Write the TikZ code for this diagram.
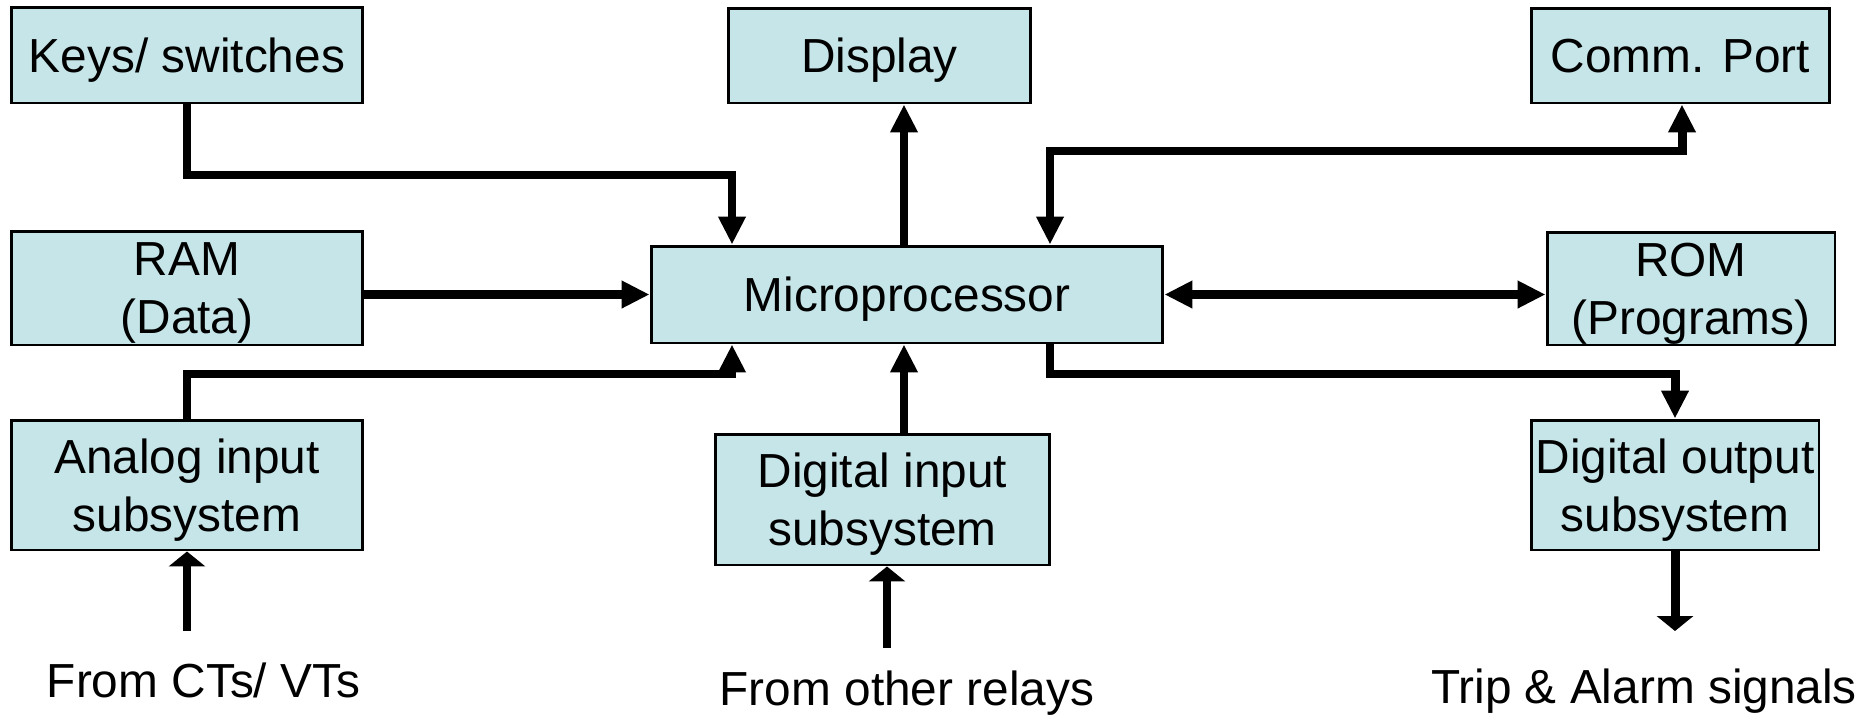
\documentclass[tikz,border=0pt]{standalone}
\usepackage{fontspec}
\setmainfont{Liberation Sans}
\usetikzlibrary{arrows.meta}
\definecolor{boxfill}{RGB}{197,229,232}
\tikzset{
  blk/.style={draw=black, fill=boxfill, line width=1.7pt, inner sep=0pt,
    align=center, text depth=0pt, font=\fontsize{27.2}{33}\selectfont},
  lbl/.style={inner sep=0pt, anchor=base, font=\fontsize{27.2}{33}\selectfont},
  conn/.style={line width=5.1pt, line join=miter,
    -{Triangle[length=0.56cm, width=0.52cm]}},
  bidir/.style={line width=5.1pt, line join=miter,
    {Triangle[length=0.56cm, width=0.52cm]}-{Triangle[length=0.56cm, width=0.52cm]}},
  ext/.style={line width=5.1pt, -{Triangle[length=0.3cm, width=0.72cm]}}
}
\begin{document}
\begin{tikzpicture}[x=0.02cm, y=-0.02cm]
\useasboundingbox (0,0) rectangle (1866,714);

% blocks
\node[blk, minimum width=7.04cm, minimum height=1.92cm] (keys) at (187,55) {Keys/ switches};
\node[blk, minimum width=6.06cm, minimum height=1.9cm] (disp) at (879.5,55.5) {Display};
\node[blk, minimum width=5.98cm, minimum height=1.9cm] (comm) at (1680.5,55.5) {Comm. Port};
\node[blk, minimum width=7.04cm, minimum height=2.28cm] (ram) at (187,288) {RAM\\(Data)};
\node[blk, minimum width=10.24cm, minimum height=1.94cm] (micro) at (907,294.5) {Microprocessor};
\node[blk, minimum width=5.76cm, minimum height=2.26cm] (rom) at (1691,288.5) {ROM\\(Programs)};
\node[blk, minimum width=7.04cm, minimum height=2.6cm] (analog) at (187,485) {Analog input\\subsystem};
\node[blk, minimum width=6.7cm, minimum height=2.62cm] (din) at (882.5,499.5) {Digital input\\subsystem};
\node[blk, minimum width=5.76cm, minimum height=2.6cm] (dout) at (1675,485) {Digital output\\subsystem};

% external signal labels (placed by baseline)
\node[lbl] (ctlab) at (203.5,697) {From CTs/ VTs};
\node[lbl] (rlylab) at (907,705) {From other relays};
\node[lbl] (triplab) at (1644,703) {Trip \& Alarm signals};

% bend points and free ends
\coordinate (kbend) at (732,175);
\coordinate (dx) at (904,0);
\coordinate (cb1) at (1050,151);
\coordinate (cb2) at (1682,151);
\coordinate (abend) at (732,374);
\coordinate (obend) at (1675,374);
\coordinate (ctin) at (187,631);
\coordinate (rlyin) at (887,648);
\coordinate (tripout) at (1675,631);

% connectors
\draw[conn] (keys.south) |- (kbend) -- (kbend |- micro.north);
\draw[conn] (micro.north -| dx) -- (disp.south -| dx);
\draw[bidir] (micro.north -| cb1) -- (cb1) -- (cb2) -- (comm.south -| cb2);
\draw[conn] (ram.east |- micro.west) -- (micro.west);
\draw[bidir] (micro.east) -- (rom.west |- micro.east);
\draw[conn] (analog.north) |- (abend) -- (abend |- micro.south);
\draw[conn] (din.north -| dx) -- (micro.south -| dx);
\draw[conn] (micro.south -| cb1) |- (obend) -- (dout.north);

\draw[ext] (ctin) -- (analog.south -| ctin);
\draw[ext] (rlyin) -- (din.south -| rlyin);
\draw[ext] (dout.south -| tripout) -- (tripout);
\end{tikzpicture}
\end{document}
